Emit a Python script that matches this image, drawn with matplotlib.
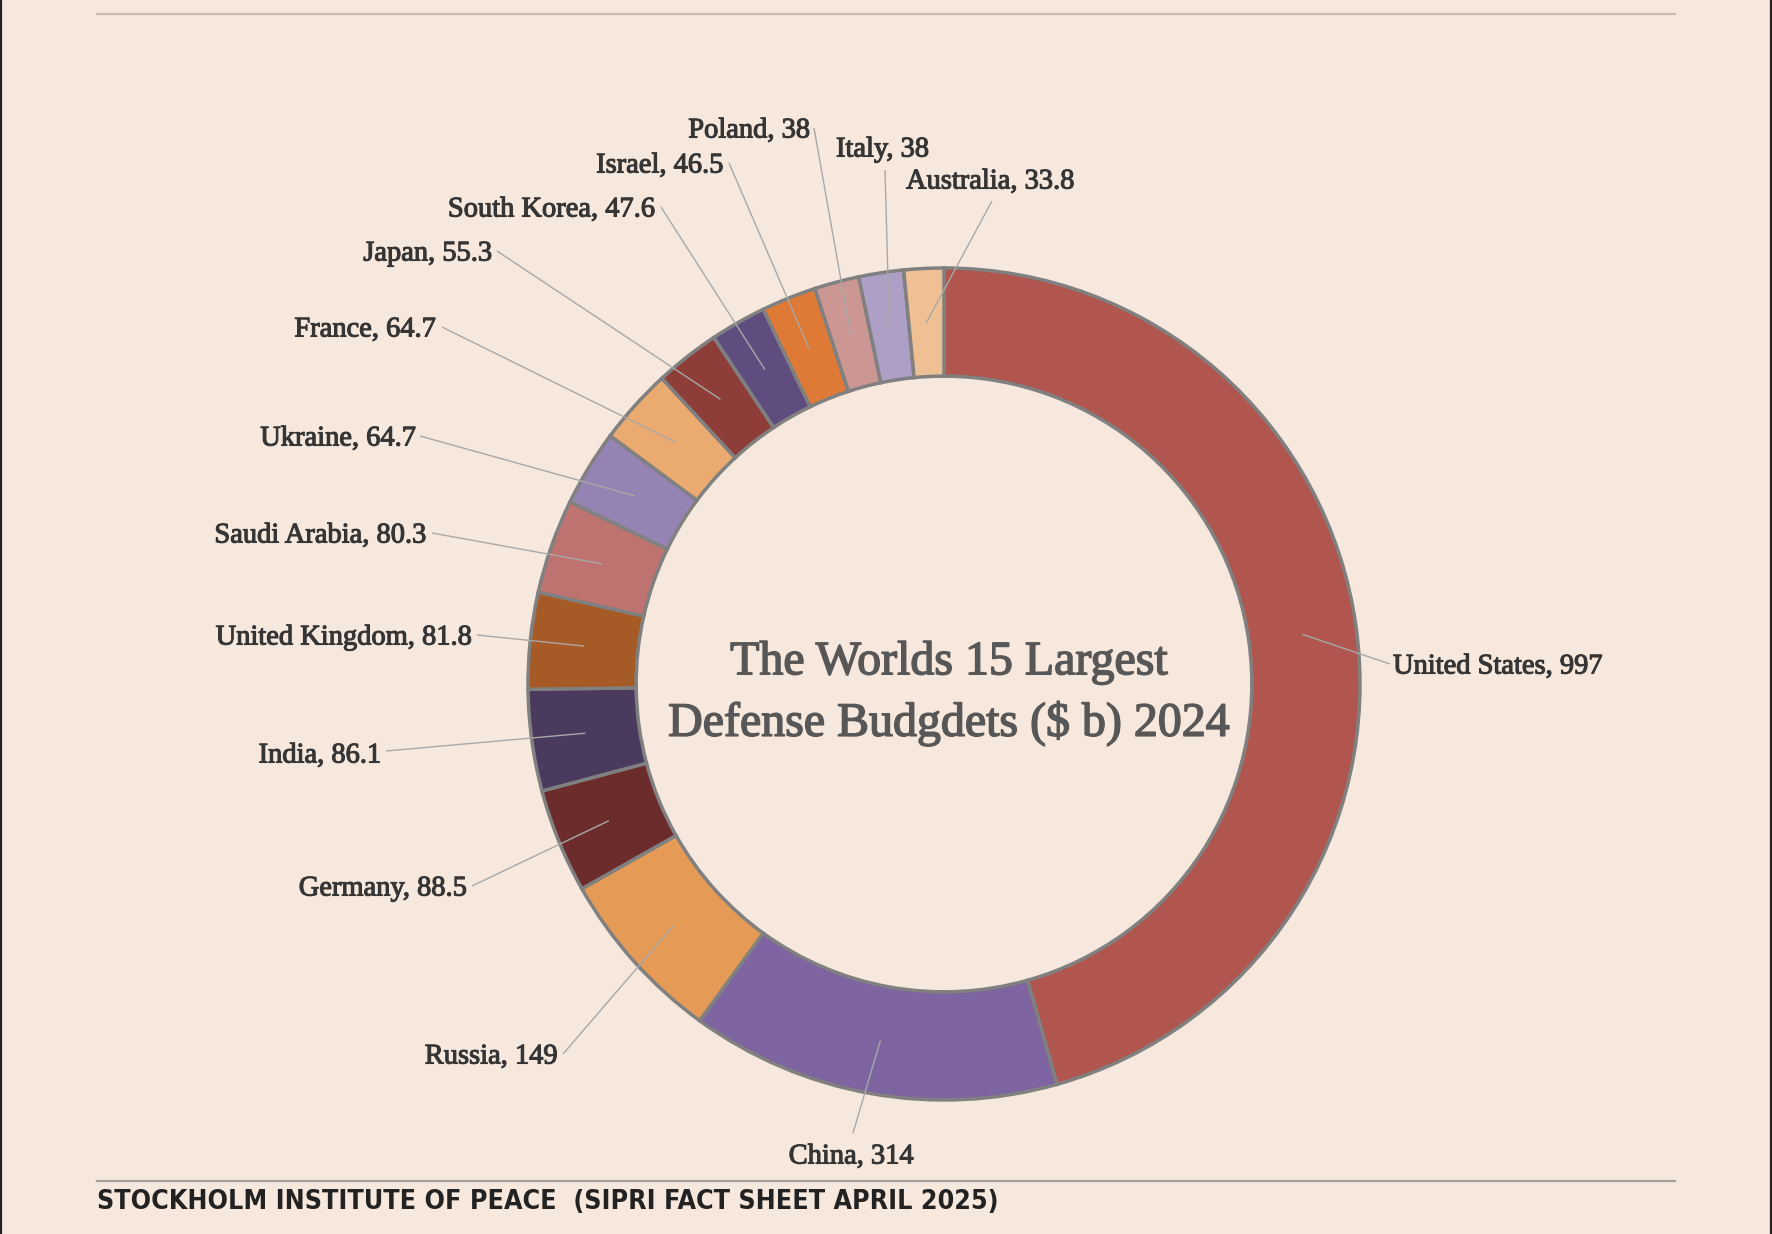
import numpy as np
import matplotlib
matplotlib.use("Agg")
import matplotlib.pyplot as plt
import matplotlib.patheffects as pe

# --- data (SIPRI 2024, $ billions) ---
countries = ["United States", "China", "Russia", "Germany", "India",
             "United Kingdom", "Saudi Arabia", "Ukraine", "France", "Japan",
             "South Korea", "Israel", "Poland", "Italy", "Australia"]
budgets = [997, 314, 149, 88.5, 86.1, 81.8, 80.3, 64.7, 64.7, 55.3,
           47.6, 46.5, 38, 38, 33.8]
budget_labels = ["997", "314", "149", "88.5", "86.1", "81.8", "80.3", "64.7",
                 "64.7", "55.3", "47.6", "46.5", "38", "38", "33.8"]
colors = ["#B0564E", "#7E64A0", "#E59A55", "#6C2C2B", "#4A3A5E",
          "#A65A25", "#BF7370", "#9584B3", "#EBAA6F", "#8E3D38",
          "#5F4D80", "#DE7A36", "#CC9792", "#AE9FC7", "#F0C095"]

W, H = 1772, 1234
BG = "#F7E8DD"

# label layout in pixel coords (x, y from top): line end, text anchor, ha
label_layout = [
    ((1390, 664), (1393, 667), "left"),     # United States
    ((853, 1133), (851, 1157), "center"),   # China
    ((563, 1054), (557, 1057), "right"),    # Russia
    ((472, 886), (467, 889), "right"),      # Germany
    ((386, 751), (381, 756), "right"),      # India
    ((477, 635), (472, 638), "right"),      # United Kingdom
    ((432, 533), (426, 536), "right"),      # Saudi Arabia
    ((420, 436), (416, 439), "right"),      # Ukraine
    ((442, 327), (436, 330), "right"),      # France
    ((497, 251), (492, 254), "right"),      # Japan
    ((661, 207), (655, 210), "right"),      # South Korea
    ((729, 163), (723, 166), "right"),      # Israel
    ((814, 128), (810, 131), "right"),      # Poland
    ((885, 170), (836, 150), "left"),       # Italy
    ((992, 201), (906, 182), "left"),       # Australia
]


def py(y):
    return H - y


fig = plt.figure(figsize=(W / 100, H / 100), dpi=100, facecolor=BG)
ax = fig.add_axes([0, 0, 1, 1])
ax.set_facecolor(BG)

cx, cy, R = 944, py(684), 416
wedges, _ = ax.pie(budgets, colors=colors, radius=R, center=(cx, cy),
                   startangle=90, counterclock=False,
                   wedgeprops=dict(width=R * 0.26, edgecolor="#808080",
                                   linewidth=2.5))
ax.set_xlim(0, W)
ax.set_ylim(0, H)
ax.set_aspect("equal")
ax.axis("off")

serif = ["Liberation Serif", "DejaVu Serif"]
lab_col = "#353535"
for w, name, val, (lend, tpos, ha) in zip(wedges, countries, budget_labels, label_layout):
    mid = np.deg2rad((w.theta1 + w.theta2) / 2)
    r_in = R * 0.87
    x0, y0 = cx + r_in * np.cos(mid), cy + r_in * np.sin(mid)
    ax.plot([x0, lend[0]], [y0, py(lend[1])], color="#A8A8A8", lw=1.0,
            solid_capstyle="butt")
    ax.text(tpos[0], py(tpos[1]), f"{name}, {val}", ha=ha, va="center",
            fontsize=20.5, color=lab_col, family=serif,
            path_effects=[pe.withStroke(linewidth=0.8, foreground=lab_col)])

# title in the hole
title_col = "#575757"
for txt, ty in [("The Worlds 15 Largest", 662), ("Defense Budgdets ($ b) 2024", 723)]:
    ax.text(949, py(ty), txt, ha="center", va="center", fontsize=34.5,
            color=title_col, family=serif,
            path_effects=[pe.withStroke(linewidth=1.1, foreground=title_col)])

# rules and footer
ax.plot([97, 1675], [py(14), py(14)], color="#C9BDB3", lw=1.6)
ax.plot([97, 1675], [py(1181), py(1181)], color="#A5A09B", lw=1.6)
ax.text(97, py(1202), "STOCKHOLM INSTITUTE OF PEACE  (SIPRI FACT SHEET APRIL 2025)",
        ha="left", va="center", fontsize=19.2, fontweight="bold",
        fontstretch="condensed", color="#222222",
        family=["DejaVu Sans"])

# dark frame edges left and right
ax.plot([1, 1], [0, H], color="#222222", lw=1.6)
ax.plot([W - 1, W - 1], [0, H], color="#222222", lw=1.6)

fig.savefig("out.png", dpi=100, facecolor=BG)
